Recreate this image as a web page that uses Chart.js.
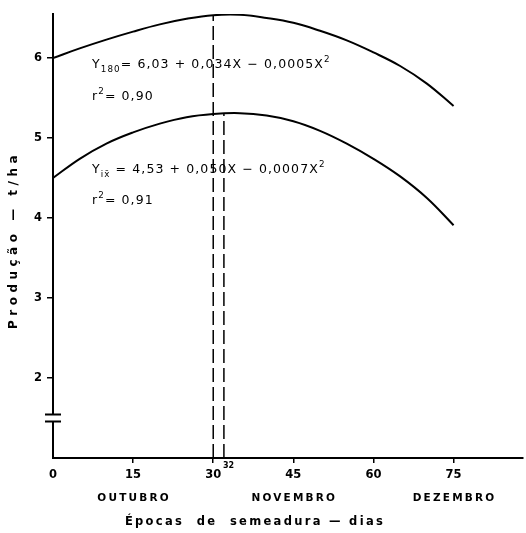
<!DOCTYPE html>
<html><head><meta charset="utf-8">
<script src="https://cdn.jsdelivr.net/npm/chart.js@4/dist/chart.umd.min.js"></script>
<style>html,body{margin:0;padding:0;background:#fff}#wrap{width:526px;height:533px}</style>
</head><body><div id="wrap"><canvas id="c" width="526" height="533"></canvas></div>
<script>
// Days after start of sowing (x)
const days = [0,5,10,15,20,25,30,35,40,45,50,55,60,65,70,75];
// Yield t/ha, curve Y180 (upper)
const y180 = [6.00,6.12,6.23,6.33,6.42,6.49,6.535,6.54,6.50,6.44,6.34,6.22,6.07,5.90,5.68,5.40];
// Yield t/ha, curve Y ix̄ (lower)
const yix = [4.50,4.74,4.93,5.07,5.18,5.26,5.30,5.31,5.28,5.21,5.09,4.93,4.74,4.52,4.25,3.91];
// Optimum sowing dates and the yields at them
const optimumDays = [30,32];
const optimumYield = [6.535,5.30];
const xTicks = [0,15,30,45,60,75];
const yTicks = [2,3,4,5,6];
const monthAt = [15,45,75];
const monthLabels = ['OUTUBRO','NOVEMBRO','DEZEMBRO'];
const yBreakAt = 1.5;

const FONT = '"DejaVu Sans", sans-serif';

function rich(ctx, x, y, parts, size) {
  for (const p of parts) {
    let fs = size, dy = 0;
    if (p.sub) { fs = size * 0.7; dy = size * 0.32; }
    if (p.sup) { fs = size * 0.7; dy = -size * 0.5; }
    ctx.font = fs + 'px ' + FONT;
    ctx.fillText(p.t, x, y + dy);
    x += ctx.measureText(p.t).width;
  }
}

const deco = {
  id: 'deco',
  afterDatasetsDraw(chart) {
    const ctx = chart.ctx, xs = chart.scales.x, ys = chart.scales.y;
    ctx.save();
    ctx.fillStyle = '#000';
    ctx.textBaseline = 'alphabetic';
    ctx.textAlign = 'left';
    // equations
    try { ctx.letterSpacing = '1.1px'; } catch(e) {}
    const ex = xs.left + 39;
    rich(ctx, ex, 68, [{t:'Y'},{t:'180',sub:true},{t:'= 6,03 + 0,034X \u2212 0,0005X'},{t:'2',sup:true}], 12.5);
    rich(ctx, ex, 100, [{t:'r'},{t:'2',sup:true},{t:'= 0,90'}], 12.5);
    rich(ctx, ex, 173, [{t:'Y'},{t:'i\u0078\u0304',sub:true},{t:' = 4,53 + 0,050X \u2212 0,0007X'},{t:'2',sup:true}], 12.5);
    rich(ctx, ex, 204, [{t:'r'},{t:'2',sup:true},{t:'= 0,91'}], 12.5);
    try { ctx.letterSpacing = '0px'; } catch(e) {}
    // y axis break
    const by = ys.getPixelForValue(yBreakAt);
    const ax = xs.left;
    ctx.fillStyle = '#fff';
    ctx.fillRect(ax - 3, by - 3, 6, 6);
    ctx.strokeStyle = '#000';
    ctx.lineWidth = 2;
    ctx.beginPath();
    ctx.moveTo(ax - 8, by - 3.5); ctx.lineTo(ax + 8, by - 3.5);
    ctx.moveTo(ax - 8, by + 3.5); ctx.lineTo(ax + 8, by + 3.5);
    ctx.stroke();
    // 32 label
    ctx.fillStyle = '#000';
    ctx.font = 'bold 8px ' + FONT;
    ctx.textAlign = 'left';
    ctx.textBaseline = 'middle';
    ctx.fillText('32', xs.getPixelForValue(optimumDays[1]) - 1, ys.bottom + 8);
    // month labels
    ctx.font = 'bold 10.5px ' + FONT;
    ctx.textAlign = 'center';
    try { ctx.letterSpacing = '2.2px'; } catch(e) {}
    monthAt.forEach((d, i) => ctx.fillText(monthLabels[i], xs.getPixelForValue(d) + 1, 498));
    // axis titles
    ctx.font = 'bold 11.5px ' + FONT;
    try { ctx.letterSpacing = '2.3px'; } catch(e) {}
    ctx.fillText('\u00C9pocas  de  semeadura \u2014 dias', 255, 522);
    ctx.font = 'bold 12px ' + FONT;
    try { ctx.letterSpacing = '4.5px'; } catch(e) {}
    ctx.translate(14, 240);
    ctx.rotate(-Math.PI / 2);
    ctx.fillText('Produ\u00E7\u00E3o \u2014 t/ha', 0, 0);
    ctx.restore();
  }
};

new Chart(document.getElementById('c'), {
  type: 'line',
  data: {
    datasets: [
      { data: days.map((d, i) => ({x: d, y: y180[i]})), borderColor: '#000', borderWidth: 2, pointRadius: 0, tension: 0.4, fill: false },
      { data: days.map((d, i) => ({x: d, y: yix[i]})), borderColor: '#000', borderWidth: 2, pointRadius: 0, tension: 0.4, fill: false },
      { data: [{x: optimumDays[0], y: 1}, {x: optimumDays[0], y: optimumYield[0]}], borderColor: '#000', borderWidth: 1.5, borderDash: [14, 5], pointRadius: 0, tension: 0, fill: false },
      { data: [{x: optimumDays[1], y: 1}, {x: optimumDays[1], y: optimumYield[1]}], borderColor: '#000', borderWidth: 1.5, borderDash: [14, 5], pointRadius: 0, tension: 0, fill: false }
    ]
  },
  options: {
    responsive: false,
    devicePixelRatio: 1,
    animation: false,
    layout: { padding: { top: 14, right: 3, left: 0, bottom: 0 } },
    plugins: { legend: { display: false }, tooltip: { enabled: false } },
    scales: {
      x: {
        type: 'linear', min: 0, max: 88,
        afterBuildTicks: s => { s.ticks = xTicks.map(v => ({value: v})); },
        afterFit: s => { s.height = 75; },
        ticks: { color: '#000', font: { family: FONT, size: 11.5, weight: 'bold' }, padding: 5, maxRotation: 0, autoSkip: false },
        grid: { drawOnChartArea: false, tickLength: 5, lineWidth: 1.5, color: c => (c.tick && c.tick.value === 0) ? 'rgba(0,0,0,0)' : '#000' },
        border: { color: '#000', width: 2 }
      },
      y: {
        type: 'linear', min: 1, max: 6.55,
        afterBuildTicks: s => { s.ticks = yTicks.map(v => ({value: v})); },
        afterFit: s => { s.width = 53; },
        ticks: { color: '#000', font: { family: FONT, size: 11.5, weight: 'bold' }, padding: 5 },
        grid: { drawOnChartArea: false, tickLength: 6, lineWidth: 1.5, color: '#000' },
        border: { color: '#000', width: 2 }
      }
    }
  },
  plugins: [deco]
});
</script>
</body></html>
